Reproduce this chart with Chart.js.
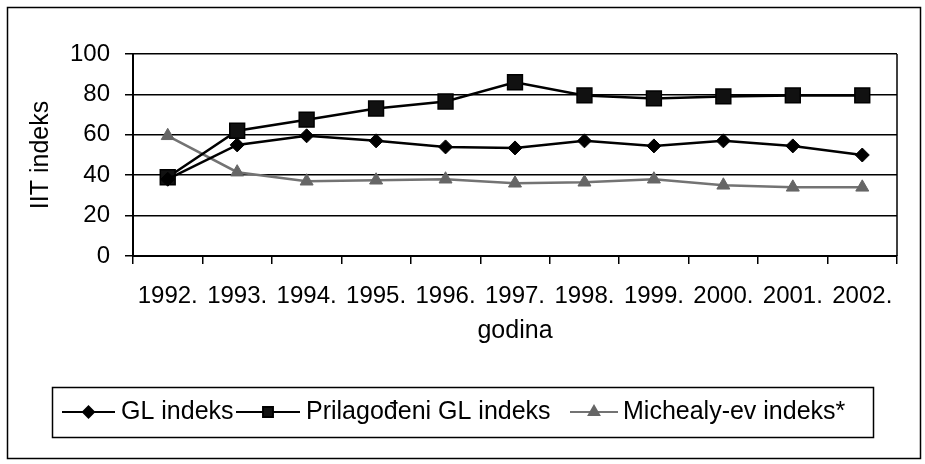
<!DOCTYPE html>
<html><head><meta charset="utf-8">
<script src="https://cdn.jsdelivr.net/npm/chart.js@4.4.1/dist/chart.umd.min.js"></script>
<style>html,body{margin:0;padding:0;background:#fff;}#wrap{width:925px;height:464px;position:relative;}</style>
</head><body><div id="wrap"><canvas id="c" width="925" height="464"></canvas></div>
<script>
const categories = ['1992.', '1993.', '1994.', '1995.', '1996.', '1997.', '1998.', '1999.', '2000.', '2001.', '2002.'];
const glIndeks = [38, 55, 59.5, 57, 54, 53.5, 57, 54.5, 57, 54.5, 50];
const prilagodeniGL = [39, 62, 67.5, 73, 76.5, 86, 79.5, 78, 79, 79.5, 79.5];
const michealyIndeks = [59.5, 41.5, 37, 37.5, 38, 36, 36.5, 38, 35, 34, 34];
const yTickValues = [0, 20, 40, 60, 80, 100];
const seriesNames = ['GL indeks', 'Prilagođeni GL indeks', 'Michealy-ev indeks*'];
const xTitle = 'godina';
const yTitle = 'IIT indeks';

const SANS = "'Liberation Sans', Arial, sans-serif";
const NARROW = "'Liberation Sans Narrow', 'Arial Narrow', 'Liberation Sans', sans-serif";

const legendLayout = [
  {x0: 62, x1: 115, tx: 121, r: 5.5},
  {x0: 236, x1: 300, tx: 306, r: 7},
  {x0: 570, x1: 618, tx: 623, r: 6}
];

const framePlugin = {
  id: 'frame',
  afterDraw(chart) {
    const ctx = chart.ctx;
    const a = chart.chartArea;
    ctx.save();
    ctx.strokeStyle = '#000';
    ctx.lineWidth = 1.5;
    ctx.beginPath();
    ctx.moveTo(a.right, a.top);
    ctx.lineTo(a.right, a.bottom);
    ctx.stroke();
    ctx.lineWidth = 1.5;
    ctx.strokeRect(7.5, 7.5, 913, 451);
    ctx.strokeRect(52.5, 387.5, 821, 50);
    const ly = 412;
    chart.data.datasets.forEach((ds, i) => {
      const L = legendLayout[i];
      ctx.strokeStyle = ds.borderColor;
      ctx.lineWidth = 2;
      ctx.beginPath();
      ctx.moveTo(L.x0, ly);
      ctx.lineTo(L.x1, ly);
      ctx.stroke();
      ctx.fillStyle = ds.pointBackgroundColor;
      ctx.strokeStyle = ds.pointBorderColor;
      Chart.helpers.drawPoint(ctx, {pointStyle: ds.pointStyle, radius: L.r, rotation: 0, borderWidth: 1}, (L.x0 + L.x1) / 2, ly);
      ctx.fillStyle = '#000';
      ctx.font = "25px " + SANS;
      ctx.textBaseline = 'alphabetic';
      ctx.textAlign = 'left';
      ctx.fillText(ds.label, L.tx, 419);
    });
    ctx.restore();
  }
};

new Chart(document.getElementById('c'), {
  type: 'line',
  data: {
    labels: categories,
    datasets: [
      {label: seriesNames[0], data: glIndeks, borderColor: '#000', borderWidth: 2.5, pointStyle: 'rectRot', pointRadius: 7, pointBackgroundColor: '#000', pointBorderColor: '#000', pointBorderWidth: 1, tension: 0},
      {label: seriesNames[1], data: prilagodeniGL, borderColor: '#000', borderWidth: 2.5, pointStyle: 'rect', pointRadius: 10.5, pointBackgroundColor: '#111', pointBorderColor: '#000', pointBorderWidth: 1.5, tension: 0},
      {label: seriesNames[2], data: michealyIndeks, borderColor: '#737373', borderWidth: 2.5, pointStyle: 'triangle', pointRadius: 7.5, pointBackgroundColor: '#666', pointBorderColor: '#666', pointBorderWidth: 1, tension: 0}
    ]
  },
  options: {
    responsive: false,
    animation: false,
    devicePixelRatio: 1,
    layout: {padding: {top: 54, right: 28, bottom: 98, left: 0}},
    plugins: {legend: {display: false}, tooltip: {enabled: false}},
    scales: {
      x: {
        type: 'category',
        offset: true,
        grid: {display: true, drawOnChartArea: false, drawTicks: true, tickLength: 8, color: '#000', lineWidth: 1.5, offset: true},
        border: {display: true, color: '#000', width: 2},
        ticks: {font: {family: NARROW, size: 24}, color: '#000', padding: 18, maxRotation: 0, autoSkip: false},
        title: {display: true, text: xTitle, font: {family: SANS, size: 25}, color: '#000', padding: {top: 0, bottom: 20}},
        afterFit: s => { s.height = 110; }
      },
      y: {
        min: 0, max: 100,
        afterBuildTicks: s => { s.ticks = yTickValues.map(v => ({value: v})); },
        grid: {display: true, drawOnChartArea: true, drawTicks: true, tickLength: 8, color: '#000', lineWidth: 1.5},
        border: {display: true, color: '#000', width: 2},
        ticks: {font: {family: SANS, size: 24}, color: '#000', padding: 15},
        title: {display: true, text: yTitle, font: {family: SANS, size: 25}, color: '#000', padding: {top: 26, bottom: 0}},
        afterFit: s => { s.width = 133; }
      }
    }
  },
  plugins: [framePlugin]
});
</script>
</body></html>
